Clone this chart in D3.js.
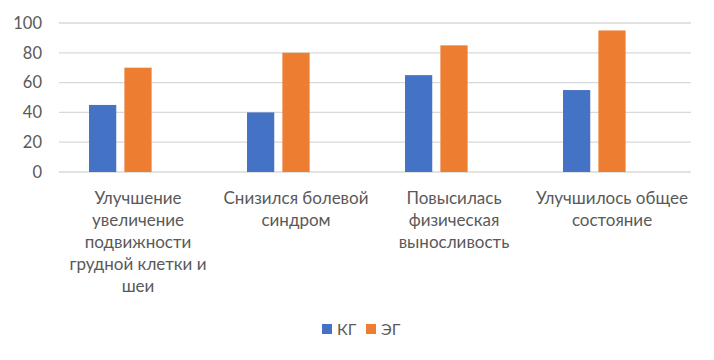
<!DOCTYPE html>
<html><head><meta charset="utf-8">
<script src="https://cdn.jsdelivr.net/npm/d3@7"></script>
<style>body{margin:0;background:#fff}</style>
</head><body>
<svg id="chart" width="714" height="360"></svg>
<script>
const categories = [
  ["Улучшение", "увеличение", "подвижности", "грудной клетки и", "шеи"],
  ["Снизился болевой", "синдром"],
  ["Повысилась", "физическая", "выносливость"],
  ["Улучшилось общее", "состояние"]
];
const seriesNames = ["КГ", "ЭГ", ""];
const kgValues = [45, 40, 65, 55];
const egValues = [70, 80, 85, 95];
const emptyValues = [null, null, null, null];
const yTicks = [0, 20, 40, 60, 80, 100];
const colors = ["#4472C4", "#ED7D31", "#A5A5A5"];

const svg = d3.select("#chart");
const font = "Lato, 'Open Sans', sans-serif";
const plotLeft = 59, plotRight = 691, plotTop = 23, plotBottom = 172;

const x0 = d3.scaleBand().domain(d3.range(categories.length)).range([plotLeft, plotRight]).paddingInner(0.38).paddingOuter(0.19);
const x1 = d3.scaleBand().domain([0, 1, 2]).range([0, x0.bandwidth()]).paddingInner(0.23);
const y = d3.scaleLinear().domain([0, 100]).range([plotBottom, plotTop]);

// gridlines
svg.append("g").selectAll("line").data(yTicks).join("line")
  .attr("x1", plotLeft).attr("x2", plotRight)
  .attr("y1", d => y(d)).attr("y2", d => y(d))
  .attr("stroke", "#D9D9D9").attr("stroke-width", 1.3);

// y axis labels
const yAxis = d3.axisLeft(y).tickValues(yTicks).tickSize(0).tickPadding(0);
const ya = svg.append("g").attr("transform", "translate(42,0)").call(yAxis);
ya.select(".domain").remove();
ya.selectAll("text").attr("font-family", font).attr("font-size", 16.5).attr("fill", "#595959");

const series = [kgValues, egValues, emptyValues];
series.forEach((vals, si) => {
  svg.append("g").selectAll("rect").data(vals.map((v, i) => ({v, i})).filter(d => d.v != null)).join("rect")
    .attr("x", d => x0(d.i) + x1(si))
    .attr("width", x1.bandwidth())
    .attr("y", d => y(d.v))
    .attr("height", d => y(0) - y(d.v))
    .attr("fill", colors[si]);
});

// category labels
const cg = svg.append("g");
categories.forEach((lines, i) => {
  const cx = x0(i) + x0.bandwidth() / 2;
  const t = cg.append("text").attr("text-anchor", "middle")
    .attr("font-family", font).attr("font-size", 17).attr("fill", "#595959");
  lines.forEach((ln, j) => {
    t.append("tspan").attr("x", cx).attr("y", 204 + j * 21.9).text(ln);
  });
});

// legend
const legend = svg.append("g");
const legItems = [{name: seriesNames[0], c: colors[0], x: 322}, {name: seriesNames[1], c: colors[1], x: 366}];
legItems.forEach(d => {
  legend.append("rect").attr("x", d.x).attr("y", 324).attr("width", 10).attr("height", 10).attr("fill", d.c);
  legend.append("text").attr("x", d.x + 15).attr("y", 335)
    .attr("font-family", font).attr("font-size", 16).attr("fill", "#595959").text(d.name);
});
</script>
</body></html>
